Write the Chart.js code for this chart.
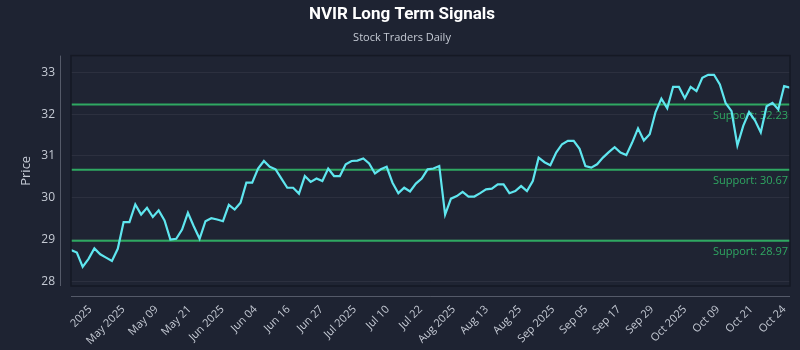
<!DOCTYPE html>
<html>
<head>
<meta charset="utf-8">
<title>NVIR Long Term Signals</title>
<script src="https://cdn.jsdelivr.net/npm/chart.js"></script>
<style>
    html, body { margin: 0; padding: 0; background: #1e2332; }
    #wrap { width: 800px; height: 350px; }
</style>
</head>
<body>
<div id="wrap"><canvas id="signalChart"></canvas></div>
<script>
// daily closes, Apr 30 - Oct 24 2025
var prices = [
    28.75, 28.69, 28.35, 28.54, 28.79, 28.65, 28.57, 28.49, 28.78, 29.42,
    29.42, 29.84, 29.60, 29.76, 29.54, 29.70, 29.46, 29.00, 29.02, 29.24,
    29.64, 29.32, 29.02, 29.44, 29.51, 29.48, 29.44, 29.83, 29.72, 29.88,
    30.36, 30.36, 30.70, 30.88, 30.74, 30.68, 30.46, 30.24, 30.24, 30.10,
    30.52, 30.38, 30.46, 30.40, 30.70, 30.52, 30.52, 30.80, 30.88, 30.89,
    30.94, 30.82, 30.58, 30.68, 30.74, 30.36, 30.11, 30.24, 30.15, 30.34,
    30.46, 30.68, 30.70, 30.76, 29.60, 29.98, 30.04, 30.14, 30.03, 30.03,
    30.11, 30.20, 30.22, 30.32, 30.32, 30.11, 30.16, 30.28, 30.16, 30.40,
    30.96, 30.85, 30.78, 31.08, 31.28, 31.36, 31.36, 31.17, 30.76, 30.72,
    30.80, 30.96, 31.09, 31.21, 31.08, 31.02, 31.32, 31.66, 31.37, 31.52,
    32.05, 32.37, 32.14, 32.65, 32.65, 32.38, 32.65, 32.55, 32.87, 32.94,
    32.94, 32.71, 32.26, 32.07, 31.25, 31.72, 32.05, 31.85, 31.56, 32.19,
    32.27, 32.11, 32.67, 32.63
];

var tickLabels = [
    '2025', 'May 2025', 'May 09', 'May 21', 'Jun 2025', 'Jun 04', 'Jun 16',
    'Jun 27', 'Jul 2025', 'Jul 10', 'Jul 22', 'Aug 2025', 'Aug 13', 'Aug 25',
    'Sep 2025', 'Sep 05', 'Sep 17', 'Sep 29', 'Oct 2025', 'Oct 09', 'Oct 21',
    'Oct 24'
];

var supportLevels = [32.23, 30.67, 28.97];

var BG = '#1e2332';
var TEXT = '#c5cad4';
var GREEN = '#2fa862';

// tick labels are spread evenly along the index axis
var firstTick = 3.3;
var lastTick = 122.0;
var tickStep = (lastTick - firstTick) / (tickLabels.length - 1);
var tickValues = tickLabels.map(function (t, i) { return firstTick + i * tickStep; });

var lo = Math.min.apply(null, prices);
var hi = Math.max.apply(null, prices);
var pad = (hi - lo) * 0.1;

Chart.defaults.font.family = "'Open Sans', 'Noto Sans', sans-serif";

var framePlugin = {
    id: 'frame',
    beforeDraw: function (chart) {
        var ctx = chart.ctx, a = chart.chartArea;
        ctx.save();
        ctx.fillStyle = BG;
        ctx.fillRect(0, 0, chart.width, chart.height);
        ctx.fillStyle = '#1f2433';
        ctx.fillRect(a.left, a.top, a.right - a.left, a.bottom - a.top);
        ctx.restore();
    },
    beforeDatasetsDraw: function (chart) {
        var ctx = chart.ctx, a = chart.chartArea, y = chart.scales.y;
        ctx.save();
        supportLevels.forEach(function (lvl) {
            var py = y.getPixelForValue(lvl);
            ctx.strokeStyle = GREEN;
            ctx.lineWidth = 2;
            ctx.beginPath();
            ctx.moveTo(a.left, py);
            ctx.lineTo(a.right, py);
            ctx.stroke();
            ctx.fillStyle = GREEN;
            ctx.font = "11px 'Open Sans', 'Noto Sans', sans-serif";
            ctx.textAlign = 'right';
            ctx.textBaseline = 'middle';
            ctx.fillText('Support: ' + lvl.toFixed(2), a.right - 2, py + 11);
        });
        ctx.restore();
    },
    afterDraw: function (chart) {
        var ctx = chart.ctx, a = chart.chartArea;
        ctx.save();
        // dark frame round the plot
        ctx.strokeStyle = '#151924';
        ctx.lineWidth = 1.5;
        ctx.strokeRect(a.left, a.top, a.right - a.left, a.bottom - a.top);
        // detached axis lines
        ctx.strokeStyle = 'rgba(190,196,210,0.35)';
        ctx.lineWidth = 1;
        ctx.beginPath();
        ctx.moveTo(a.left - 10.5, a.top);
        ctx.lineTo(a.left - 10.5, a.bottom);
        ctx.moveTo(a.left, a.bottom + 10.5);
        ctx.lineTo(a.right, a.bottom + 10.5);
        ctx.stroke();
        ctx.restore();
    }
};

var ctx = document.getElementById('signalChart').getContext('2d');
var chart = new Chart(ctx, {
    type: 'line',
    data: {
        datasets: [{
            label: 'NVIR',
            data: prices.map(function (p, i) { return { x: i, y: p }; }),
            borderColor: '#5fe6ef',
            borderWidth: 2.2,
            pointRadius: 0,
            tension: 0,
            fill: false
        }]
    },
    options: {
        responsive: true,
        maintainAspectRatio: false,
        animation: false,
        layout: { padding: { left: 14, right: 10, top: 0, bottom: 0 } },
        plugins: {
            legend: { display: false },
            tooltip: { enabled: false },
            title: {
                display: true,
                text: 'NVIR Long Term Signals',
                color: '#ffffff',
                font: { family: "'Liberation Sans Narrow', Roboto, sans-serif", size: 17, weight: 'bold' },
                padding: { top: 5, bottom: 4 }
            },
            subtitle: {
                display: true,
                text: 'Stock Traders Daily',
                color: TEXT,
                font: { size: 11 },
                padding: { top: 2, bottom: 11 }
            }
        },
        scales: {
            x: {
                type: 'linear',
                min: 0,
                max: prices.length - 1,
                afterBuildTicks: function (scale) {
                    scale.ticks = tickValues.map(function (v) { return { value: v }; });
                },
                afterFit: function (scale) {
                    scale.height = 64;
                    scale.paddingLeft = 0;
                    scale.paddingRight = 0;
                },
                ticks: {
                    autoSkip: false,
                    minRotation: 45,
                    maxRotation: 45,
                    color: TEXT,
                    font: { size: 11 },
                    padding: 17,
                    callback: function (value) {
                        var i = tickValues.indexOf(value);
                        return i >= 0 ? tickLabels[i] : '';
                    }
                },
                grid: { display: false, drawTicks: false },
                border: { display: false }
            },
            y: {
                min: lo - pad,
                max: hi + pad,
                afterBuildTicks: function (scale) {
                    var t = [];
                    for (var v = Math.ceil(scale.min); v <= scale.max; v++) t.push({ value: v });
                    scale.ticks = t;
                },
                afterFit: function (scale) {
                    scale.width = 57;
                    scale.paddingTop = 0;
                    scale.paddingBottom = 0;
                },
                ticks: { color: TEXT, font: { size: 12 }, padding: 16 },
                grid: { color: 'rgba(255,255,255,0.06)', drawTicks: false },
                border: { display: false },
                title: { display: true, text: 'Price', color: TEXT, font: { size: 13 } }
            }
        }
    },
    plugins: [framePlugin]
});
</script>
</body>
</html>
